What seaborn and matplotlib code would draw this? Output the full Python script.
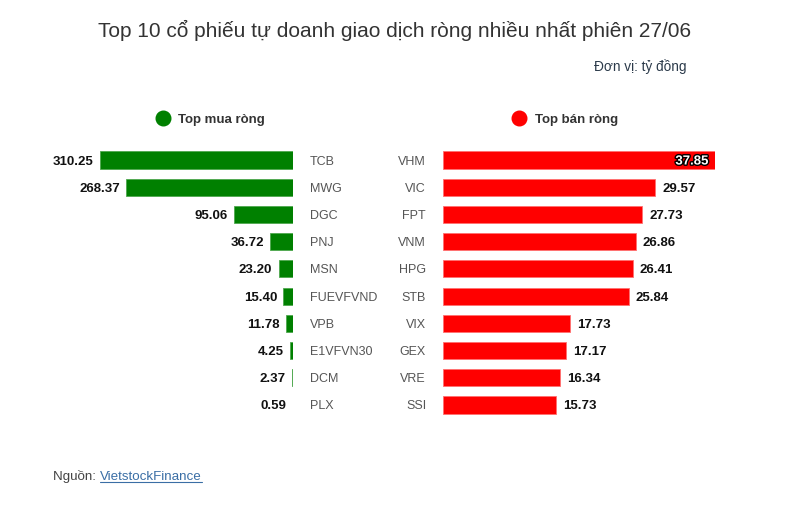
import matplotlib
matplotlib.use("Agg")
import matplotlib.pyplot as plt
import matplotlib.patheffects as pe
from matplotlib.lines import Line2D
import seaborn as sns

# Data
buy_tickers = ["TCB", "MWG", "DGC", "PNJ", "MSN", "FUEVFVND", "VPB", "E1VFVN30", "DCM", "PLX"]
buy_values = [310.25, 268.37, 95.06, 36.72, 23.20, 15.40, 11.78, 4.25, 2.37, 0.59]
sell_tickers = ["VHM", "VIC", "FPT", "VNM", "HPG", "STB", "VIX", "GEX", "VRE", "SSI"]
sell_values = [37.85, 29.57, 27.73, 26.86, 26.41, 25.84, 17.73, 17.17, 16.34, 15.73]

title = "Top 10 cổ phiếu tự doanh giao dịch ròng nhiều nhất phiên 27/06"
unit = "Đơn vị: tỷ đồng"

sns.set_style("white")
plt.rcParams["font.family"] = ["Liberation Sans", "DejaVu Sans"]

W, H = 801, 511
fig = plt.figure(figsize=(W / 100, H / 100), dpi=100)
fig.patch.set_facecolor("white")

def fx(px):
    return px / W

def fy(py):
    return 1 - py / H

top, bottom = 146.4, 418.6
ax_buy = fig.add_axes([fx(100), fy(bottom), fx(293) - fx(100), (bottom - top) / H])
ax_sell = fig.add_axes([fx(443), fy(bottom), fx(715) - fx(443), (bottom - top) / H])

sns.barplot(x=buy_values, y=buy_tickers, orient="h", color="#008000", saturation=1,
            width=0.63, edgecolor="#4fa84f", linewidth=0.6, ax=ax_buy)
sns.barplot(x=sell_values, y=sell_tickers, orient="h", color="#ff0000", saturation=1,
            width=0.63, edgecolor="#ff7070", linewidth=0.6, ax=ax_sell)

ax_buy.set_xlim(max(buy_values), 0)
ax_sell.set_xlim(0, max(sell_values))

for ax in (ax_buy, ax_sell):
    ax.set_xticks([])
    ax.set_xlabel("")
    ax.set_ylabel("")
    for s in ax.spines.values():
        s.set_visible(False)
    ax.set_facecolor("none")

ax_buy.yaxis.tick_right()
ax_buy.tick_params(axis="y", length=0, pad=12.2, labelsize=9, labelcolor="#555555")
ax_sell.tick_params(axis="y", length=0, pad=12.2, labelsize=9, labelcolor="#555555")

# value labels
for i, v in enumerate(buy_values):
    ax_buy.annotate(f"{v:.2f}", (v, i), xytext=(-4.5, 0), textcoords="offset points",
                    ha="right", va="center_baseline", fontsize=9.5, fontweight="bold",
                    color="#111111")

for i, v in enumerate(sell_values):
    if i == 0:
        ax_sell.annotate(f"{v:.2f}", (v, i), xytext=(-4.5, 0), textcoords="offset points",
                         ha="right", va="center_baseline", fontsize=9.5, fontweight="bold",
                         color="white",
                         path_effects=[pe.withStroke(linewidth=2, foreground="black")])
    else:
        ax_sell.annotate(f"{v:.2f}", (v, i), xytext=(5, 0), textcoords="offset points",
                         ha="left", va="center_baseline", fontsize=9.5, fontweight="bold",
                         color="#111111")

# title and unit
fig.text(fx(395), fy(28), title, ha="center", va="center_baseline", fontsize=15, color="#333333")
fig.text(fx(686), fy(65), unit, ha="right", va="center_baseline", fontsize=9.8, color="#2b3a4a")

# legend markers
fig.add_artist(Line2D([fx(163)], [fy(118)], marker="o", markersize=10.5, color="#008000",
                      linestyle="none", transform=fig.transFigure))
fig.text(fx(178), fy(118), "Top mua ròng", ha="left", va="center_baseline", fontsize=9.5,
         fontweight="bold", color="#333333")
fig.add_artist(Line2D([fx(519)], [fy(118)], marker="o", markersize=10.5, color="#ff0000",
                      linestyle="none", transform=fig.transFigure))
fig.text(fx(535), fy(118), "Top bán ròng", ha="left", va="center_baseline", fontsize=9.5,
         fontweight="bold", color="#333333")

# source
src = fig.text(fx(53), fy(475), "Nguồn: ", ha="left", va="center_baseline", fontsize=9.6,
               color="#444444")
fig.canvas.draw()
r = fig.canvas.get_renderer()
bb = src.get_window_extent(r)
link = fig.text(bb.x1 / W, fy(475), "VietstockFinance", ha="left", va="center_baseline",
                fontsize=9.6, color="#3a6ea5")
fig.canvas.draw()
lb = link.get_window_extent(r)
fig.add_artist(Line2D([lb.x0 / W, lb.x1 / W], [(lb.y0 + 1) / H] * 2, color="#3a6ea5",
                      linewidth=0.8, transform=fig.transFigure))

fig.savefig("out.png", dpi=100, facecolor="white")
